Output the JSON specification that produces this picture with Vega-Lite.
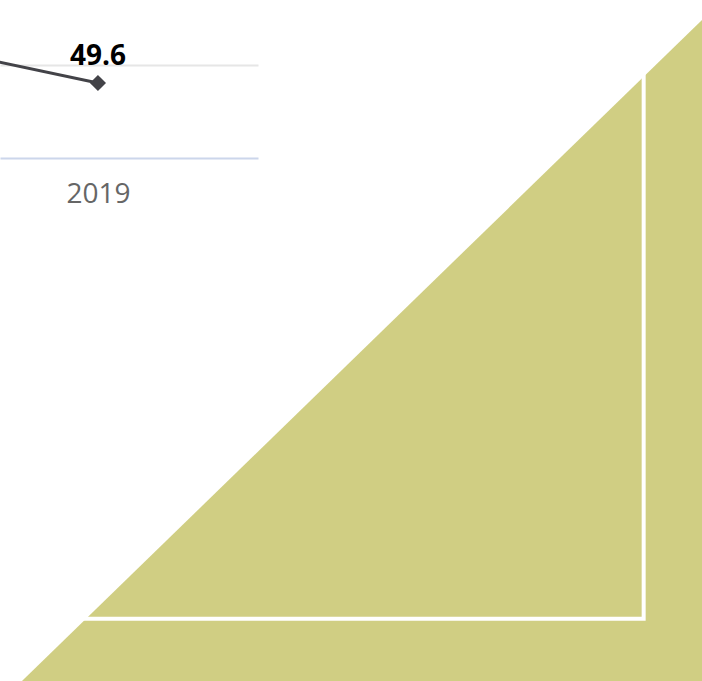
{
  "$schema": "https://vega.github.io/schema/vega-lite/v6.json",
  "width": 258,
  "height": 158,
  "autosize": "none",
  "padding": {"left": 0, "top": 0, "right": 444, "bottom": 523},
  "background": "white",
  "config": {"view": {"stroke": null}, "font": "Open Sans"},
  "datasets": {
    "series": [
      {"year": 2018, "value": 51.1},
      {"year": 2019, "value": 49.6}
    ],
    "triangle": [
      {"px": 3.13, "py": 0, "py2": 0},
      {"px": 100, "py": 97.06, "py2": 0}
    ],
    "frame": [
      {"px": 91.69, "py": 90.5, "step": 1},
      {"px": 91.69, "py": 9.15, "step": 2},
      {"px": 11.0, "py": 9.15, "step": 3}
    ]
  },
  "layer": [
    {
      "data": {"name": "series"},
      "encoding": {
        "x": {
          "field": "year",
          "type": "quantitative",
          "scale": {"domain": [2018.694, 2019.5], "nice": false, "zero": false},
          "axis": {
            "values": [2019],
            "format": "d",
            "grid": false,
            "ticks": false,
            "tickSize": 0,
            "labelFontSize": 28,
            "labelFont": "Open Sans",
            "labelColor": "#666666",
            "labelPadding": 22,
            "domainColor": "#ccd6eb",
            "domainWidth": 2,
            "title": null
          }
        },
        "y": {
          "field": "value",
          "type": "quantitative",
          "scale": {"domain": [47.933, 51.444], "nice": false, "zero": false},
          "axis": {
            "values": [50],
            "grid": true,
            "gridColor": "#e6e6e6",
            "gridWidth": 2,
            "domain": false,
            "ticks": false,
            "labels": false,
            "title": null
          }
        }
      },
      "layer": [
        {"mark": {"type": "line", "color": "#434348", "strokeWidth": 3, "clip": true}},
        {
          "transform": [{"filter": "datum.year == 2019"}],
          "mark": {"type": "point", "shape": "diamond", "filled": true, "size": 260, "color": "#434348", "opacity": 1}
        },
        {
          "transform": [{"filter": "datum.year == 2019"}],
          "mark": {"type": "text", "dy": -18, "baseline": "alphabetic", "fontSize": 28, "fontWeight": "bold", "font": "Open Sans", "color": "#000000"},
          "encoding": {"text": {"field": "value", "type": "quantitative", "format": ".1f"}}
        }
      ]
    },
    {
      "encoding": {
        "x": {
          "field": "px",
          "type": "quantitative",
          "scale": {"domain": [0, 100], "range": [0, 702], "nice": false, "zero": false},
          "axis": null
        },
        "y": {
          "field": "py",
          "type": "quantitative",
          "scale": {"domain": [0, 100], "range": [681, 0], "nice": false, "zero": false},
          "axis": null
        }
      },
      "layer": [
        {
          "data": {"name": "triangle"},
          "mark": {"type": "area", "color": "#d0ce83", "opacity": 1},
          "encoding": {"y2": {"field": "py2"}}
        },
        {
          "data": {"name": "frame"},
          "mark": {"type": "line", "color": "#ffffff", "strokeWidth": 4, "strokeCap": "butt", "strokeJoin": "miter"},
          "encoding": {"order": {"field": "step", "type": "quantitative"}}
        }
      ]
    }
  ],
  "resolve": {"scale": {"x": "independent", "y": "independent"}}
}
